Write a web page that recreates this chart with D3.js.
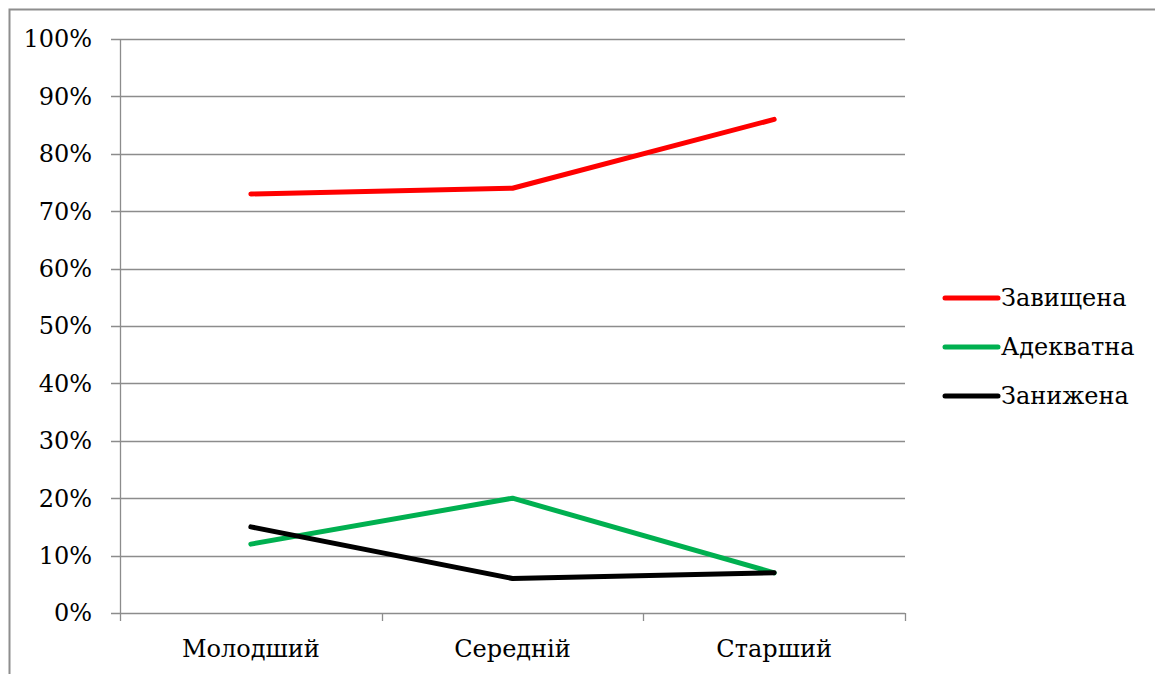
<!DOCTYPE html>
<html>
<head>
<meta charset="utf-8">
<script src="https://cdn.jsdelivr.net/npm/d3@7/dist/d3.min.js"></script>
<style>
  body { margin: 0; background: #fff; }
  svg { display: block; }
  svg text { font-family: 'DejaVu Serif', serif; font-size: 24px; fill: #000; }
</style>
</head>
<body>
<div id="chart"></div>
<script>
const categories = ['Молодший', 'Середній', 'Старший'];
const seriesNames = ['Завищена', 'Адекватна', 'Занижена'];
const seriesColors = ['#ff0000', '#00b050', '#000000'];
const overstated = [73, 74, 86];
const adequate = [12, 20, 7];
const understated = [15, 6, 7];
const yTicks = [0, 10, 20, 30, 40, 50, 60, 70, 80, 90, 100];

const series = [overstated, adequate, understated];

const W = 1155, H = 674;
const plot = { left: 120, top: 39, right: 905, bottom: 613 };

const svg = d3.select('#chart').append('svg')
    .attr('width', W)
    .attr('height', H);

// outer frame (right and bottom edges fall outside the picture)
svg.append('rect')
    .attr('x', 9.5).attr('y', 9.5)
    .attr('width', W + 20).attr('height', H + 20)
    .attr('fill', 'none')
    .attr('stroke', '#8e8e8e')
    .attr('stroke-width', 2);

const x = d3.scaleBand()
    .domain(categories)
    .range([plot.left, plot.right]);

const y = d3.scaleLinear()
    .domain([0, 100])
    .range([plot.bottom, plot.top]);

// gridlines with short left ticks
svg.append('g')
    .selectAll('line')
    .data(yTicks)
    .enter()
    .append('line')
    .attr('x1', plot.left - 9)
    .attr('x2', plot.right)
    .attr('y1', d => Math.round(y(d)) + 0.5)
    .attr('y2', d => Math.round(y(d)) + 0.5)
    .attr('stroke', '#8c8c8c')
    .attr('stroke-width', 1.3);

svg.append('line')
    .attr('x1', plot.left + 0.5).attr('x2', plot.left + 0.5)
    .attr('y1', plot.top).attr('y2', plot.bottom)
    .attr('stroke', '#8c8c8c')
    .attr('stroke-width', 1.3);

svg.append('g')
    .selectAll('text')
    .data(yTicks)
    .enter()
    .append('text')
    .attr('x', plot.left - 28)
    .attr('y', d => y(d))
    .attr('dy', '0.35em')
    .attr('text-anchor', 'end')
    .text(d => d + '%');

// x ticks at band edges
const edges = categories.map(c => x(c)).concat([x(categories[categories.length - 1]) + x.bandwidth()]);
svg.append('g')
    .selectAll('line')
    .data(edges)
    .enter()
    .append('line')
    .attr('x1', d => Math.round(d) + 0.5)
    .attr('x2', d => Math.round(d) + 0.5)
    .attr('y1', plot.bottom)
    .attr('y2', plot.bottom + 8)
    .attr('stroke', '#8c8c8c')
    .attr('stroke-width', 1.3);

svg.append('g')
    .selectAll('text')
    .data(categories)
    .enter()
    .append('text')
    .attr('x', d => x(d) + x.bandwidth() / 2)
    .attr('y', 657)
    .attr('text-anchor', 'middle')
    .text(d => d);

const line = d3.line()
    .x((d, i) => x(categories[i]) + x.bandwidth() / 2)
    .y(d => y(d));

svg.append('g')
    .selectAll('path')
    .data(series)
    .enter()
    .append('path')
    .attr('d', d => line(d))
    .attr('fill', 'none')
    .attr('stroke', (d, i) => seriesColors[i])
    .attr('stroke-width', 5)
    .attr('stroke-linecap', 'round')
    .attr('stroke-linejoin', 'round');

// legend
const legend = svg.append('g')
    .selectAll('g')
    .data(seriesNames)
    .enter()
    .append('g')
    .attr('transform', (d, i) => `translate(945, ${298 + i * 49})`);

legend.append('line')
    .attr('x1', 0).attr('x2', 53)
    .attr('y1', 0).attr('y2', 0)
    .attr('stroke', (d, i) => seriesColors[i])
    .attr('stroke-width', 5)
    .attr('stroke-linecap', 'round');

legend.append('text')
    .attr('x', 56)
    .attr('y', 0)
    .attr('dy', '0.35em')
    .text(d => d);
</script>
</body>
</html>
